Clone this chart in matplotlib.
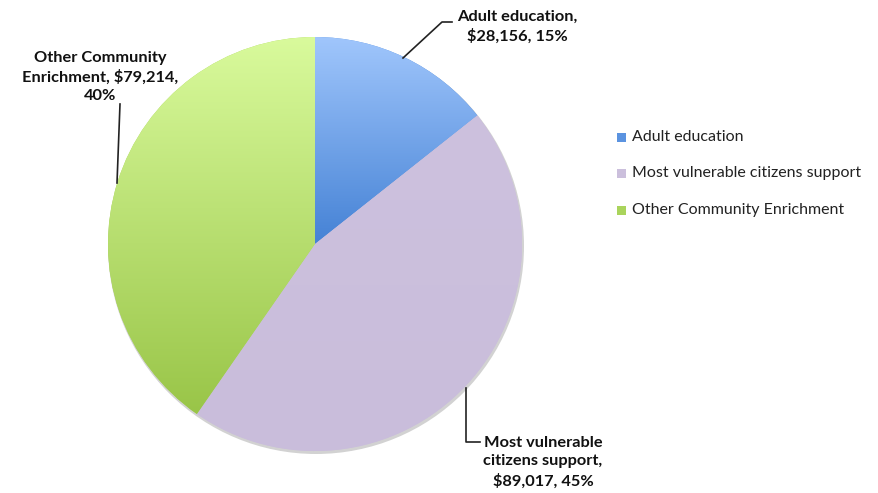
import numpy as np
import matplotlib
matplotlib.use("Agg")
import matplotlib.pyplot as plt
from matplotlib.colors import LinearSegmentedColormap
from matplotlib.patches import Rectangle, Circle

categories = ["Adult education", "Most vulnerable citizens support", "Other Community Enrichment"]
values = [28156, 89017, 79214]
percents = [15, 45, 40]
top_colors = ["#a0c6fc", "#cdc1de", "#d9fa9c"]
bot_colors = ["#4582d5", "#c9bddb", "#99c548"]
legend_colors = ["#5b93e0", "#cbbfdc", "#aad45c"]

W, H = 879, 493
fig = plt.figure(figsize=(W / 100, H / 100), dpi=100)
ax = fig.add_axes([0, 0, 1, 1])
ax.set_xlim(0, W)
ax.set_ylim(0, H)
ax.axis("off")

cx, cy, r = 315, H - 244, 207

# shadow
ax.add_patch(Circle((cx + 1, cy - 2), r + 1, facecolor="#d2d2d2", edgecolor="none", zorder=0.5))

wedges, _ = ax.pie(values, startangle=90, counterclock=False, center=(cx, cy), radius=r,
                   colors=legend_colors, wedgeprops=dict(linewidth=0), frame=False)
ax.set_xlim(0, W)
ax.set_ylim(0, H)
ax.set_aspect("auto")

grad = np.linspace(0, 1, 256).reshape(-1, 1)
for w, tc, bc in zip(wedges, top_colors, bot_colors):
    verts = w.get_path().vertices
    y0, y1 = verts[:, 1].min(), verts[:, 1].max()
    cmap = LinearSegmentedColormap.from_list("g", [tc, bc])
    im = ax.imshow(grad, cmap=cmap, extent=(cx - r, cx + r, y0, y1),
                   origin="upper", aspect="auto", zorder=2)
    im.set_clip_path(w)
    w.set_zorder(1)

ax.set_xlim(0, W)
ax.set_ylim(0, H)

font = "Lato"
lab_kw = dict(fontsize=11.8, fontweight="bold", family=font, color="#111111",
              ha="center", va="center", linespacing=1.42, zorder=5)

def y(p):
    return H - p

# Adult education label
ax.text(517, y(27), f"{categories[0]},\n${values[0]:,}, {percents[0]}%", **lab_kw)
ax.plot([403, 442, 452], [y(58), y(22), y(22)], color="#222222", lw=1.2, zorder=5)

# Other Community Enrichment label
ax.text(100, y(77), f"Other Community\nEnrichment, ${values[2]:,},\n{percents[2]}%", **lab_kw)
ax.plot([120, 117], [y(104), y(183)], color="#222222", lw=1.2, zorder=5)

# Most vulnerable label
ax.text(543, y(462), f"Most vulnerable\ncitizens support,\n${values[1]:,}, {percents[1]}%", **lab_kw)
ax.plot([466, 466, 480], [y(388), y(442), y(442)], color="#222222", lw=1.2, zorder=5)

# Legend
leg_y = [137, 173, 210]
for cat, col, ly in zip(categories, legend_colors, leg_y):
    ax.add_patch(Rectangle((617, y(ly) - 4.5), 9, 9, facecolor=col, edgecolor="none", zorder=5))
    ax.text(632, y(ly), cat, fontsize=11.5, family=font, color="#222222",
            ha="left", va="center", zorder=5)

fig.savefig("out.png", dpi=100)
